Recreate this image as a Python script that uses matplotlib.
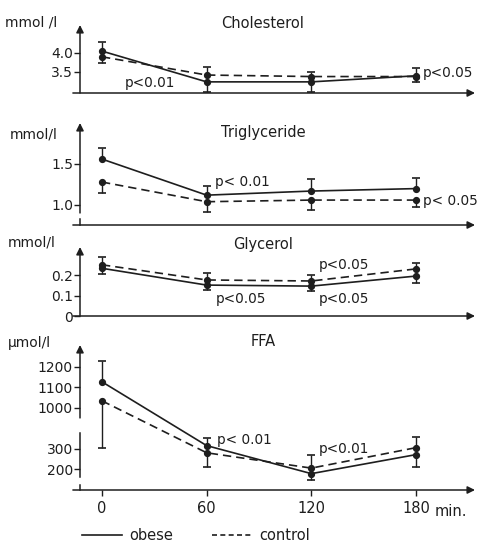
import matplotlib
matplotlib.use('Agg')
import matplotlib.pyplot as plt
from matplotlib.lines import Line2D
import numpy as np

plt.rcParams['font.family'] = ['DejaVu Sans']
ink = '#1e1e1e'

# ---- data ----
time = [0, 60, 120, 180]
time_labels = ['0', '60', '120', '180']

chol_obese = [4.05, 3.24, 3.24, 3.40]
chol_obese_err = [4.29, 2.98, 2.98, 3.60]      # end point of error bar
chol_control = [3.90, 3.42, 3.38, 3.38]
chol_control_err = [3.74, 3.63, 3.51, 3.24]

tg_obese = [1.56, 1.12, 1.17, 1.20]
tg_obese_err = [1.70, 1.23, 1.32, 1.33]
tg_control = [1.28, 1.04, 1.06, 1.06]
tg_control_err = [1.15, 0.92, 0.94, 0.98]

gly_obese = [0.233, 0.151, 0.146, 0.195]
gly_obese_err = [0.205, 0.127, 0.122, 0.160]
gly_control = [0.250, 0.176, 0.171, 0.230]
gly_control_err = [0.290, 0.210, 0.200, 0.260]

ffa_obese = [1127, 315, 178, 271]
ffa_obese_err = [1229, 359, 149, 212]
ffa_control = [1034, 280, 205, 305]
ffa_control_err = [305, 212, 271, 388]


# broken FFA axis: 350..950 compressed
def ffa_fwd(v):
    v = np.asarray(v, float)
    return np.where(v <= 350, v, np.where(v >= 950, v - 500, 350 + (v - 350) / 6.0))


def ffa_inv(d):
    d = np.asarray(d, float)
    return np.where(d <= 350, d, np.where(d >= 450, d + 500, 350 + (d - 350) * 6.0))


W, H = 480, 546
fig = plt.figure(figsize=(W / 100, H / 100), dpi=100, facecolor='white')

panels = [
    dict(title='Cholesterol', unit='mmol /l', top=25, bottom=93, ylim=(2.947, 4.737),
         obese=chol_obese, oerr=chol_obese_err, control=chol_control, cerr=chol_control_err,
         yticks=[3.5, 4.0], ylabels=['3.5', '4.0'], title_y=23, unit_y=23, unit_x=5,
         notes=[(13, 3.21, 'p<0.01'), (184, 3.47, 'p<0.05')],
         axis_segs=[(0, 1)]),
    dict(title='Triglyceride', unit='mmol/l', top=123, bottom=225, ylim=(0.756, 2.0),
         obese=tg_obese, oerr=tg_obese_err, control=tg_control, cerr=tg_control_err,
         yticks=[1.0, 1.5], ylabels=['1.0', '1.5'], title_y=132, unit_y=134, unit_x=10,
         notes=[(65, 1.28, 'p< 0.01'), (184, 1.05, 'p< 0.05')],
         axis_segs=[(0.118, 1), (0, 0.059)]),
    dict(title='Glycerol', unit='mmol/l', top=247, bottom=316, ylim=(0, 0.337),
         obese=gly_obese, oerr=gly_obese_err, control=gly_control, cerr=gly_control_err,
         yticks=[0, 0.1, 0.2], ylabels=['0', '0.1', '0.2'], title_y=244, unit_y=243, unit_x=8,
         notes=[(124, 0.249, 'p<0.05'), (65, 0.083, 'p<0.05'), (124, 0.083, 'p<0.05')],
         axis_segs=[(0, 1)]),
    dict(title='FFA', unit='µmol/l', top=345, bottom=490, ylim=(98, 1307),
         obese=ffa_obese, oerr=ffa_obese_err, control=ffa_control, cerr=ffa_control_err,
         yticks=[200, 300, 1000, 1100, 1200], ylabels=['200', '300', '1000', '1100', '1200'],
         title_y=341, unit_y=343, unit_x=8,
         notes=[(66, 341, 'p< 0.01'), (124, 300, 'p<0.01')],
         axis_segs=[(0.497, 1), (0.09, 0.393), (0, 0.034)]),
]

x0, x1 = 80, 475
for i, p in enumerate(panels):
    ax = fig.add_axes([x0 / W, 1 - p['bottom'] / H, (x1 - x0) / W, (p['bottom'] - p['top']) / H])
    ax.set_facecolor('none')
    if p['title'] == 'FFA':
        ax.set_yscale('function', functions=(ffa_fwd, ffa_inv))
    ax.set_xlim(-12.6, 213.8)
    ax.set_ylim(*p['ylim'])
    for s in ax.spines.values():
        s.set_visible(False)

    # y axis (possibly broken) with arrow on top
    segs = p['axis_segs']
    for (a, b) in segs[1:]:
        ax.plot([0, 0], [a, b], color=ink, lw=1.1, transform=ax.transAxes, clip_on=False)
    a0 = segs[0][0]
    ax.annotate('', xy=(0, 1), xytext=(0, a0), xycoords='axes fraction',
                arrowprops=dict(arrowstyle='-|>', color=ink, lw=1.1, mutation_scale=11,
                                shrinkA=0, shrinkB=0))
    # x axis arrow
    ax.annotate('', xy=(1.0, 0), xytext=(-0.018, 0), xycoords='axes fraction',
                arrowprops=dict(arrowstyle='-|>', color=ink, lw=1.1, mutation_scale=11,
                                shrinkA=0, shrinkB=0))

    # series
    ax.plot(time, p['obese'], '-', color=ink, lw=1.2, marker='o', ms=4.2, clip_on=False)
    ax.plot(time, p['control'], '--', color=ink, lw=1.2, dashes=(5, 3), marker='o', ms=4.2,
            clip_on=False)
    for mean, end in ((p['obese'], p['oerr']), (p['control'], p['cerr'])):
        ax.vlines(time, mean, end, color=ink, lw=1.0)
        ax.plot(time, end, '_', color=ink, ms=6, mew=1.2, ls='none', clip_on=False)

    # ticks
    ax.set_yticks(p['yticks'])
    ax.set_yticklabels(p['ylabels'])
    ax.tick_params(axis='y', length=4, width=1.0, pad=1, labelsize=10, color=ink, labelcolor=ink)
    ax.yaxis.set_minor_locator(matplotlib.ticker.NullLocator())
    if i == 3:
        ax.set_xticks(time)
        ax.set_xticklabels(time_labels)
        ax.tick_params(axis='x', length=4, width=1.0, pad=4, labelsize=10.5,
                       color=ink, labelcolor=ink)
    else:
        ax.set_xticks([])

    for (tx, ty, s) in p['notes']:
        ax.text(tx, ty, s, ha='left', va='center', fontsize=9.8, color=ink)

    fig.text(263 / W, 1 - p['title_y'] / H, p['title'], ha='center', va='center',
             fontsize=10.5, color=ink)
    fig.text(p['unit_x'] / W, 1 - p['unit_y'] / H, p['unit'], ha='left', va='center',
             fontsize=10, color=ink)

fig.text(435 / W, 1 - 511 / H, 'min.', ha='left', va='center', fontsize=10.5, color=ink)

handles = [Line2D([], [], color=ink, lw=1.2, ls='-'),
           Line2D([], [], color=ink, lw=1.2, ls='--', dashes=(3, 2))]
fig.legend(handles, ['obese', 'control'], loc='center', bbox_to_anchor=(196 / W, 1 - 536 / H),
           ncol=2, frameon=False, fontsize=10.5, handlelength=2.8, handletextpad=0.5,
           columnspacing=2.6, labelcolor=ink)

fig.savefig('out.png', dpi=100, facecolor='white')
